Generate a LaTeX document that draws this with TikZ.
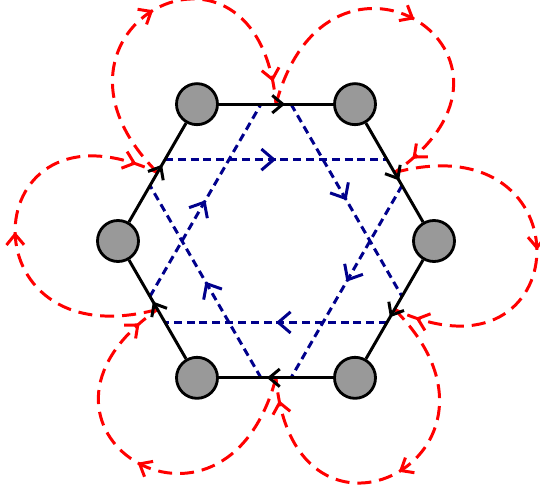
\documentclass[tikz,border=0pt]{standalone}
\usepackage{tikz}
\usetikzlibrary{arrows.meta,calc,decorations.markings}
\definecolor{hopblue}{RGB}{0,0,140}
\tikzset{
  site/.style={
    circle,
    draw=black,
    fill=gray!80,
    line width=1.6pt,
    minimum size=8.2mm,
    inner sep=0pt
  },
  bond/.style={
    line width=1.7pt,
    black,
    postaction={decorate},
    decoration={markings,
      mark=at position 0.58 with {\arrow{Straight Barb[length=6pt,width=10pt]}}}
  },
  hopping/.style={
    line width=1.7pt,
    hopblue,
    dash pattern=on 4.5pt off 2.8pt,
    postaction={decorate},
    decoration={markings,
      mark=at position 0.5 with {\arrow{Straight Barb[length=7pt,width=12pt]}}}
  },
  flux/.style={
    line width=1.7pt,
    red,
    dash pattern=on 8pt off 4.5pt,
    looseness=3.8,
    postaction={decorate},
    decoration={markings,
      mark=at position 0.5 with {\arrow{Straight Barb[length=6pt,width=10pt]}},
      mark=at position 0.94 with {\arrow{Straight Barb[length=6pt,width=10pt]}}}
  }
}

\begin{document}
\begin{tikzpicture}
  \useasboundingbox (-5.52,-4.92) rectangle (5.28,4.82);

  % Lattice sites
  \node[site] (s1) at (120:3.16) {};
  \node[site] (s2) at (60:3.16) {};
  \node[site] (s3) at (0:3.16) {};
  \node[site] (s4) at (-60:3.16) {};
  \node[site] (s5) at (-120:3.16) {};
  \node[site] (s6) at (180:3.16) {};

  % Bond midpoints
  \coordinate (m1) at ($(s1)!0.5!(s2)$);
  \coordinate (m2) at ($(s2)!0.5!(s3)$);
  \coordinate (m3) at ($(s3)!0.5!(s4)$);
  \coordinate (m4) at ($(s4)!0.5!(s5)$);
  \coordinate (m5) at ($(s5)!0.5!(s6)$);
  \coordinate (m6) at ($(s6)!0.5!(s1)$);

  % Hopping end points on each bond
  \coordinate (p1) at ($(s1)!0.405!(s2)$); \coordinate (q1) at ($(s1)!0.595!(s2)$);
  \coordinate (p2) at ($(s2)!0.405!(s3)$); \coordinate (q2) at ($(s2)!0.595!(s3)$);
  \coordinate (p3) at ($(s3)!0.405!(s4)$); \coordinate (q3) at ($(s3)!0.595!(s4)$);
  \coordinate (p4) at ($(s4)!0.405!(s5)$); \coordinate (q4) at ($(s4)!0.595!(s5)$);
  \coordinate (p5) at ($(s5)!0.405!(s6)$); \coordinate (q5) at ($(s5)!0.595!(s6)$);
  \coordinate (p6) at ($(s6)!0.405!(s1)$); \coordinate (q6) at ($(s6)!0.595!(s1)$);

  % Flux loops around the sites
  \draw[flux] (m6) to[out=135, in=95] (m1);
  \draw[flux] (m1) to[out=75, in=35] (m2);
  \draw[flux] (m2) to[out=15, in=-25] (m3);
  \draw[flux] (m3) to[out=-45, in=-85] (m4);
  \draw[flux] (m4) to[out=-105, in=-145] (m5);
  \draw[flux] (m5) to[out=195, in=155] (m6);

  % Next-nearest neighbour hoppings
  \draw[hopping] (q6) -- (p2);
  \draw[hopping] (q1) -- (p3);
  \draw[hopping] (q2) -- (p4);
  \draw[hopping] (q3) -- (p5);
  \draw[hopping] (q4) -- (p6);
  \draw[hopping] (q5) -- (p1);

  % Nearest neighbour bonds
  \draw[bond] (s1) -- (s2);
  \draw[bond] (s2) -- (s3);
  \draw[bond] (s3) -- (s4);
  \draw[bond] (s4) -- (s5);
  \draw[bond] (s5) -- (s6);
  \draw[bond] (s6) -- (s1);
\end{tikzpicture}
\end{document}
